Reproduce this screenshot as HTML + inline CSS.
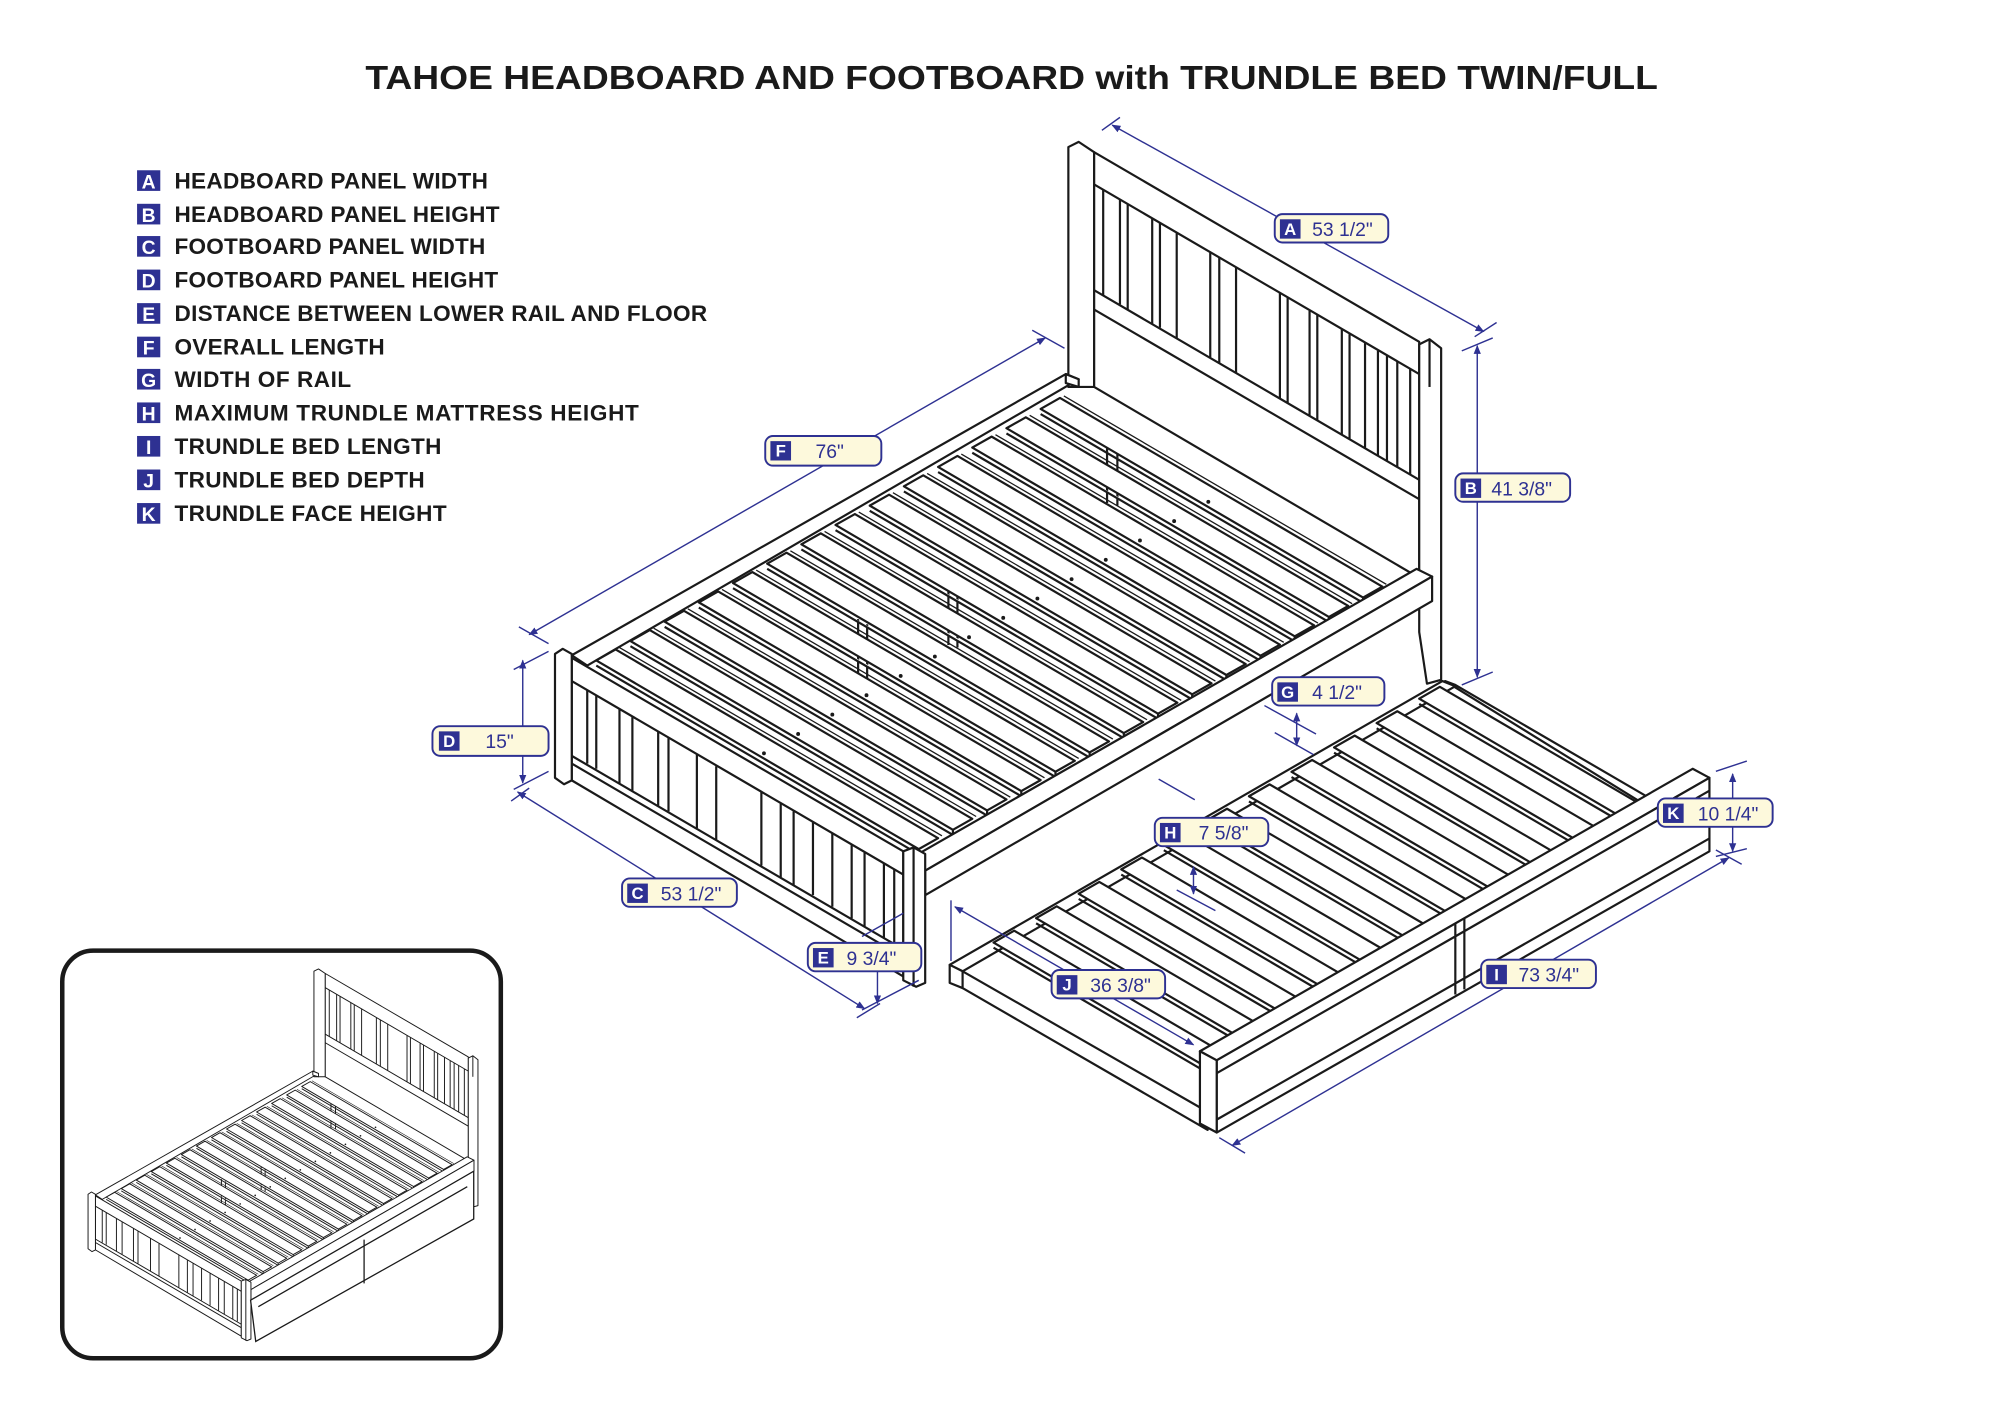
<!DOCTYPE html>
<html><head><meta charset="utf-8"><style>
html,body{margin:0;padding:0;background:#fff;}
svg{display:block;}
</style></head><body>
<svg width="2000" height="1415" viewBox="0 0 1550 1097" xmlns="http://www.w3.org/2000/svg" xmlns:xlink="http://www.w3.org/1999/xlink">
<defs>
<marker id="ar" viewBox="0 0 10 10" refX="9" refY="5" markerWidth="7" markerHeight="7" orient="auto-start-reverse" markerUnits="userSpaceOnUse"><path d="M0,1 L10,5 L0,9 z" fill="#2e3192"/></marker>
<g id="slat" fill="#fff" stroke="#1a1a1a" stroke-width="1.7" stroke-linejoin="round">
<path d="M0,4 L250,150.3 L250,146.3"/>
<polygon points="0,0 15,-8.5 265,137.8 250,146.3"/>
<path d="M18,-10 L268,136" fill="none" stroke-width="1"/>
<circle cx="130" cy="72" r="1.5" fill="#1a1a1a" stroke="none"/>
</g>
<g id="tslat" fill="#fff" stroke="#1a1a1a" stroke-width="1.7" stroke-linejoin="round">
<path d="M0,4 L200,121 L200,117"/>
<polygon points="0,0 16,-9.2 216,107.8 200,117"/>
</g>
<g id="bed" fill="#fff" stroke="#1a1a1a" stroke-width="1.7" stroke-linejoin="round">
<polygon points="828,114 836,110 848,118 848,300 828,300"/>
<polygon points="848,118 1100,265 1100,448 848,300"/>
<path d="M848,143 L1100,290 M848,225 L1100,372 M848,240 L1100,387" fill="none"/>
<g fill="none">
<path d="M855,147 V229 M868,155 V236 M874,158 V240 M893,169 V251 M899,173 V254 M912,180 V262 M938,196 V277 M945,200 V281 M958,207 V289 M992,227 V309 M998,231 V312 M1015,241 V322 M1021,244 V326 M1040,255 V337 M1046,259 V340 M1058,266 V347 M1068,272 V353 M1075,276 V357 M1083,280 V362 M1093,286 V368"/>
</g>
<polygon points="1100,267 1108,263 1117,270 1117,527 1106,530 1100,490"/>
<path d="M1108,263 V300" fill="none"/>
<path d="M858,330 V390 M866,334 V392 M735,440 V500 M742,444 V502 M665,480 V540 M672,484 V540 M545,575 V640 M552,578 V640" fill="none"/>
<polygon points="443,508 826,290 836,294 455,516"/>
<polygon points="826,290 836,294 836,300 826,297"/>
<use xlink:href="#slat" x="806.5" y="317"/>
<use xlink:href="#slat" x="780" y="332"/>
<use xlink:href="#slat" x="753.5" y="347"/>
<use xlink:href="#slat" x="727" y="362"/>
<use xlink:href="#slat" x="700.5" y="377"/>
<use xlink:href="#slat" x="674" y="392"/>
<use xlink:href="#slat" x="647.5" y="407"/>
<use xlink:href="#slat" x="621" y="422"/>
<use xlink:href="#slat" x="594.5" y="437"/>
<use xlink:href="#slat" x="568" y="452"/>
<use xlink:href="#slat" x="541.5" y="467"/>
<use xlink:href="#slat" x="515" y="482"/>
<use xlink:href="#slat" x="488.5" y="497"/>
<use xlink:href="#slat" x="462" y="512"/>
<polygon points="703,667 1098,441 1110,447 717,675"/>
<polygon points="717,675 1110,447 1110,466 717,694"/>
<polygon points="443,510 700,660 700,757 443,605"/>
<path d="M443,528 L700,678 M443,586 L700,736 M443,592 L700,742" fill="none"/>
<path fill="none" d="M455,535 V592 M462,539 V596 M480,550 V607 M490,556 V613 M510,567 V625 M518,572 V629 M540,585 V642 M555,594 V651 M590,614 V671 M605,623 V680 M615,629 V686 M630,637 V694 M645,646 V703 M660,655 V712 M670,661 V718 M685,669 V727 M693,674 V731"/>
<polygon points="430,507 436,503 443,507 443,605 437,608 430,603"/>
<polygon points="700,660 708,657 717,662 717,762 710,765 700,760"/>
<path d="M708,657 V765" fill="none"/>
</g>
</defs>

<text x="283" y="69" font-family="Liberation Sans, sans-serif" font-weight="bold" font-size="26" fill="#1a1a1a" textLength="1002" lengthAdjust="spacingAndGlyphs">TAHOE HEADBOARD AND FOOTBOARD with TRUNDLE BED TWIN/FULL</text>

<g font-family="Liberation Sans, sans-serif" font-weight="bold">
<g fill="#2e3192">
<rect x="106" y="132" width="18" height="16"/><rect x="106" y="158" width="18" height="16"/><rect x="106" y="183" width="18" height="16"/><rect x="106" y="209" width="18" height="16"/><rect x="106" y="235" width="18" height="16"/><rect x="106" y="261" width="18" height="16"/><rect x="106" y="286" width="18" height="16"/><rect x="106" y="312" width="18" height="16"/><rect x="106" y="338" width="18" height="16"/><rect x="106" y="364" width="18" height="16"/><rect x="106" y="390" width="18" height="16"/>
</g>
<g fill="#fff" font-size="15" text-anchor="middle">
<text x="115" y="146">A</text><text x="115" y="172">B</text><text x="115" y="197">C</text><text x="115" y="223">D</text><text x="115" y="249">E</text><text x="115" y="275">F</text><text x="115" y="300">G</text><text x="115" y="326">H</text><text x="115" y="352">I</text><text x="115" y="378">J</text><text x="115" y="404">K</text>
</g>
<g fill="#1a1a1a" font-size="17.5" lengthAdjust="spacingAndGlyphs">
<text x="135" y="146" textLength="243">HEADBOARD PANEL WIDTH</text>
<text x="135" y="172" textLength="252">HEADBOARD PANEL HEIGHT</text>
<text x="135" y="197" textLength="241">FOOTBOARD PANEL WIDTH</text>
<text x="135" y="223" textLength="251">FOOTBOARD PANEL HEIGHT</text>
<text x="135" y="249" textLength="413">DISTANCE BETWEEN LOWER RAIL AND FLOOR</text>
<text x="135" y="275" textLength="163">OVERALL LENGTH</text>
<text x="135" y="300" textLength="137">WIDTH OF RAIL</text>
<text x="135" y="326" textLength="360">MAXIMUM TRUNDLE MATTRESS HEIGHT</text>
<text x="135" y="352" textLength="207">TRUNDLE BED LENGTH</text>
<text x="135" y="378" textLength="194">TRUNDLE BED DEPTH</text>
<text x="135" y="404" textLength="211">TRUNDLE FACE HEIGHT</text>
</g>
</g>

<use xlink:href="#bed"/>

<g fill="#fff" stroke="#1a1a1a" stroke-width="1.7" stroke-linejoin="round">
<polygon points="1120,528 1128,531 1322,644 1314,648"/>
<polygon points="736,748 1118,528 1128,532 746,753"/>
<polygon points="736,748 746,753 746,766 736,762"/>
<polygon points="746,753 936,862 936,876 746,766"/>
<use xlink:href="#tslat" x="1100" y="541.7"/>
<use xlink:href="#tslat" x="1067" y="560.6"/>
<use xlink:href="#tslat" x="1034" y="579.5"/>
<use xlink:href="#tslat" x="1001" y="598.4"/>
<use xlink:href="#tslat" x="968" y="617.3"/>
<use xlink:href="#tslat" x="935" y="636.2"/>
<use xlink:href="#tslat" x="902" y="655.1"/>
<use xlink:href="#tslat" x="869" y="674"/>
<use xlink:href="#tslat" x="836" y="692.9"/>
<use xlink:href="#tslat" x="803" y="711.8"/>
<use xlink:href="#tslat" x="770" y="730.7"/>
<polygon points="930,815 1312,596 1325,603 943,822"/>
<polygon points="943,822 1325,603 1325,660 943,878"/>
<path d="M943,832 L1325,613 M943,868 L1325,650 M1128,716 V771 M1135,712 V767" fill="none"/>
<polygon points="930,815 943,822 943,878 930,871"/>
</g>

<g stroke="#2e3192" stroke-width="1.1" fill="none">
<path d="M862,97 L1150,257" marker-start="url(#ar)" marker-end="url(#ar)"/>
<path d="M854,101 L868,91 M1143,261 L1160,250"/>
<path d="M1145,268 V525" marker-start="url(#ar)" marker-end="url(#ar)"/>
<path d="M1133,272 L1157,262 M1133,531 L1157,521"/>
<path d="M410,492 L810,262" marker-start="url(#ar)" marker-end="url(#ar)"/>
<path d="M402,486 L425,499 M800,256 L825,270"/>
<path d="M405,512 V607" marker-start="url(#ar)" marker-end="url(#ar)"/>
<path d="M398,519 L425,505 M398,612 L425,598"/>
<path d="M401,614 L670,782" marker-start="url(#ar)" marker-end="url(#ar)"/>
<path d="M396,621 L410,611 M664,789 L682,778"/>
<path d="M680,740 V778" marker-start="url(#ar)" marker-end="url(#ar)"/>
<path d="M668,783 L712,760 M668,726 L700,708"/>
<path d="M1005,553 V578" marker-start="url(#ar)" marker-end="url(#ar)"/>
<path d="M980,547 L1020,569 M988,568 L1018,585"/>
<path d="M925,672 V693" marker-start="url(#ar)" marker-end="url(#ar)"/>
<path d="M898,604 L926,620 M912,690 L942,706"/>
<path d="M740,703 L925,810" marker-start="url(#ar)" marker-end="url(#ar)"/>
<path d="M737,698 V745"/>
<path d="M955,888 L1340,665" marker-start="url(#ar)" marker-end="url(#ar)"/>
<path d="M945,882 L965,894 M1330,659 L1350,670"/>
<path d="M1343,600 V660" marker-start="url(#ar)" marker-end="url(#ar)"/>
<path d="M1330,598 L1354,590 M1330,664 L1354,658"/>
</g>

<g font-family="Liberation Sans, sans-serif">
<g fill="#fdf9dc" stroke="#2e3192" stroke-width="1.5">
<rect x="988" y="166" width="88" height="22" rx="6"/>
<rect x="1128" y="367" width="89" height="22" rx="6"/>
<rect x="593" y="338" width="90" height="23" rx="6"/>
<rect x="986" y="525" width="87" height="22" rx="6"/>
<rect x="335" y="563" width="90" height="23" rx="6"/>
<rect x="1285" y="619" width="89" height="22" rx="6"/>
<rect x="895" y="634" width="88" height="22" rx="6"/>
<rect x="482" y="681" width="89" height="22" rx="6"/>
<rect x="626" y="731" width="88" height="22" rx="6"/>
<rect x="815" y="752" width="88" height="22" rx="6"/>
<rect x="1148" y="744" width="89" height="22" rx="6"/>
</g>
<g fill="#2e3192">
<rect x="992" y="170" width="16" height="15"/>
<rect x="1132" y="371" width="16" height="15"/>
<rect x="597" y="342" width="16" height="15"/>
<rect x="990" y="529" width="16" height="15"/>
<rect x="340" y="567" width="16" height="15"/>
<rect x="1289" y="623" width="16" height="15"/>
<rect x="899" y="638" width="16" height="15"/>
<rect x="486" y="685" width="16" height="15"/>
<rect x="630" y="735" width="16" height="15"/>
<rect x="819" y="756" width="16" height="15"/>
<rect x="1152" y="748" width="16" height="15"/>
</g>
<g fill="#fff" font-weight="bold" font-size="13" text-anchor="middle">
<text x="1000" y="182">A</text><text x="1140" y="383">B</text><text x="605" y="354">F</text><text x="998" y="541">G</text><text x="348" y="579">D</text><text x="1297" y="635">K</text><text x="907" y="650">H</text><text x="494" y="697">C</text><text x="638" y="747">E</text><text x="827" y="768">J</text><text x="1160" y="760">I</text>
</g>
<g fill="#2e3192" font-size="15">
<text x="1017" y="183">53 1/2"</text>
<text x="1156" y="384">41 3/8"</text>
<text x="632" y="355">76"</text>
<text x="1017" y="542">4 1/2"</text>
<text x="376" y="580">15"</text>
<text x="1316" y="636">10 1/4"</text>
<text x="929" y="651">7 5/8"</text>
<text x="512" y="698">53 1/2"</text>
<text x="656" y="748">9 3/4"</text>
<text x="845" y="769">36 3/8"</text>
<text x="1177" y="761">73 3/4"</text>
</g>
</g>

<rect x="48" y="737" width="340" height="316" rx="24" fill="#fff" stroke="#1a1a1a" stroke-width="3.5"/>
<use xlink:href="#bed" transform="translate(68,925) scale(0.44) translate(-430,-505)"/>
<g fill="#fff" stroke="#1a1a1a" stroke-width="1">
<polygon points="194,1008 367,908 367,945 198,1040"/>
<path d="M200,1013 L362,920 M282,961 V995"/>
</g>
</svg>
</body></html>
